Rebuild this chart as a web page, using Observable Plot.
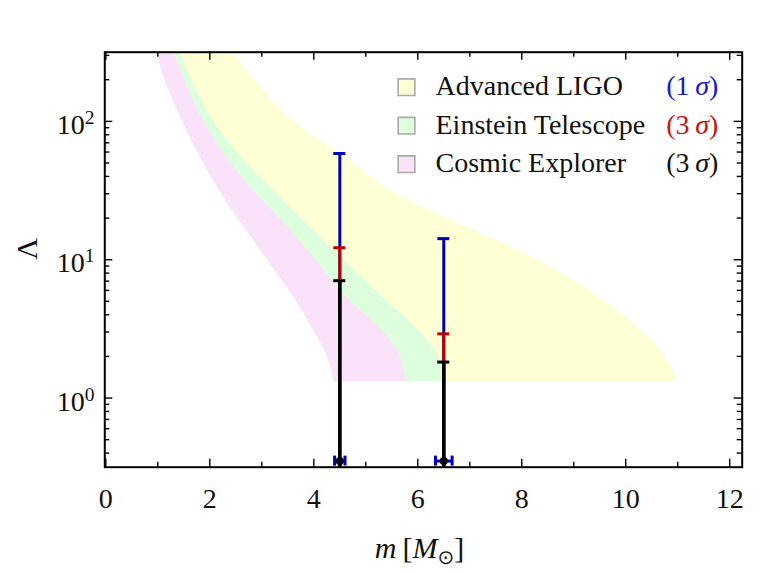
<!DOCTYPE html>
<html>
<head>
<meta charset="utf-8">
<script src="https://cdn.jsdelivr.net/npm/d3@7"></script>
<script src="https://cdn.jsdelivr.net/npm/@observablehq/plot@0.6"></script>
<style>
  html, body { margin: 0; padding: 0; background: #ffffff; }
  #chart svg { display: block; }
</style>
</head>
<body>
<div id="chart"></div>
<script>
// ---------- data ----------
// band edges: for each Λ level, the mass of the left edge and of the right edge of each band
const lamLevels     = [316.2, 200, 100, 50, 30, 20, 10, 5, 3, 2, 1.5, 1.31];
const leftEdge      = [0.975, 1.138, 1.475, 1.879, 2.225, 2.533, 3.11, 3.667, 4.013, 4.263, 4.36, 4.385];
const cosmicRight   = [1.306, 1.513, 1.877, 2.398, 2.898, 3.340, 4.033, 4.706, 5.340, 5.667, 5.752, 5.785];
const einsteinRight = [1.417, 1.648, 2.071, 2.706, 3.283, 3.744, 4.571, 5.415, 6.033, 6.408, 6.485, 6.504];
const ligoRight     = [2.437, 2.856, 3.600, 4.744, 5.571, 6.552, 8.302, 9.587, 10.32, 10.754, 10.927, 10.994];

// error bars
const massPoints      = [4.5, 6.5];
const centralLambda   = [0.35, 0.35];
const lowerLambda     = [0.3, 0.3];
const ligo1sigmaUpper = [58.6, 14.2];
const et3sigmaUpper   = [12.2, 2.91];
const ce3sigmaUpper   = [7.05, 1.82];
const ligoMassErr     = [0.10, 0.16];

// legend
const legendNames  = ["Advanced LIGO", "Einstein Telescope", "Cosmic Explorer"];
const legendSigma  = ["(1σ)", "(3σ)", "(3σ)"];

// ticks
const xMajorTicks = [0, 2, 4, 6, 8, 10, 12];
const xMinorTicks = [1, 3, 5, 7, 9, 11];
const yMajorTicks = [1, 10, 100];
const yMinorTicks = [0.4, 0.5, 0.6, 0.7, 0.8, 0.9, 2, 3, 4, 5, 6, 7, 8, 9,
                     20, 30, 40, 50, 60, 70, 80, 90, 200, 300];

// ---------- styling ----------
const colLigo = "#ffffd5", colET = "#ddfedd", colCE = "#fbe2fb";
const legendFill = [colLigo, colET, colCE];
const legendSigmaColor = ["#1717d0", "#cc1010", "#111111"];
const barBlue = "#0000bb", barRed = "#bb0000", barBlack = "#000000";
const FONT = "'Liberation Serif', 'DejaVu Serif', serif";

const W = 759, H = 573;
const mL = 104.3, mR = 17.3, mT = 51.7, mB = 106.3;
const frameW = W - mL - mR, frameH = H - mT - mB;

const bands = lamLevels.map((lam, i) => ({
  lam, left: leftEdge[i], ce: cosmicRight[i], et: einsteinRight[i], ligo: ligoRight[i]
}));
const bars = massPoints.map((m, i) => ({
  m, c: centralLambda[i], lo: lowerLambda[i],
  ligo: ligo1sigmaUpper[i], et: et3sigmaUpper[i], ce: ce3sigmaUpper[i], dm: ligoMassErr[i]
}));

const marks = [];
// bands
marks.push(Plot.areaX(bands, {y: "lam", x1: "left", x2: "ligo", fill: colLigo, curve: "monotone-y", clip: true}));
marks.push(Plot.areaX(bands, {y: "lam", x1: "left", x2: "et", fill: colET, curve: "monotone-y", clip: true}));
marks.push(Plot.areaX(bands, {y: "lam", x1: "left", x2: "ce", fill: colCE, curve: "monotone-y", clip: true}));

// horizontal (mass) error bar
marks.push(Plot.ruleY(bars, {y: "c", x1: d => d.m - d.dm, x2: d => d.m + d.dm, stroke: barBlue, strokeWidth: 3}));
marks.push(Plot.ruleX(bars, {x: d => d.m - d.dm, y1: "c", y2: "c", insetTop: -5, insetBottom: -5, stroke: barBlue, strokeWidth: 3}));
marks.push(Plot.ruleX(bars, {x: d => d.m + d.dm, y1: "c", y2: "c", insetTop: -5, insetBottom: -5, stroke: barBlue, strokeWidth: 3}));

// vertical error bars
const vbar = (key, color, sw) => [
  Plot.ruleX(bars, {x: "m", y1: "lo", y2: key, stroke: color, strokeWidth: sw, clip: true}),
  Plot.ruleY(bars, {y: key, x1: "m", x2: "m", insetLeft: -6, insetRight: -6, stroke: color, strokeWidth: 3})
];
marks.push(...vbar("ligo", barBlue, 3));
marks.push(...vbar("et", barRed, 3));
marks.push(...vbar("ce", barBlack, 3.5));
marks.push(Plot.dot(bars, {x: "m", y: "c", r: 4, fill: "black"}));

// ticks (inward, all four sides)
const tk = {stroke: "black", strokeWidth: 1.4};
marks.push(Plot.tickX(xMajorTicks, {x: d => d, insetTop: frameH - 8, ...tk}));
marks.push(Plot.tickX(xMajorTicks, {x: d => d, insetBottom: frameH - 8, ...tk}));
marks.push(Plot.tickX(xMinorTicks, {x: d => d, insetTop: frameH - 5, ...tk}));
marks.push(Plot.tickX(xMinorTicks, {x: d => d, insetBottom: frameH - 5, ...tk}));
marks.push(Plot.tickY(yMajorTicks, {y: d => d, insetRight: frameW - 8, ...tk}));
marks.push(Plot.tickY(yMajorTicks, {y: d => d, insetLeft: frameW - 8, ...tk}));
marks.push(Plot.tickY(yMinorTicks, {y: d => d, insetRight: frameW - 5, ...tk}));
marks.push(Plot.tickY(yMinorTicks, {y: d => d, insetLeft: frameW - 5, ...tk}));
marks.push(Plot.frame({stroke: "black", strokeWidth: 2}));

// tick labels
marks.push(Plot.text(xMajorTicks, {x: d => d, frameAnchor: "bottom", lineAnchor: "middle", dy: 32,
  text: d => String(d), fontSize: 28, fill: "#111"}));
marks.push(Plot.text(yMajorTicks, {y: d => d, frameAnchor: "left", lineAnchor: "middle", dx: -10.3, dy: 3.7, textAnchor: "end",
  text: d => "10^" + Math.round(Math.log10(d)), fontSize: 28, fill: "#111"}));

// axis labels
marks.push(Plot.text(["m [M⊙]"], {frameAnchor: "bottom", lineAnchor: "middle", dx: -4, dy: 81, fontSize: 30, fill: "#111"}));
marks.push(Plot.text(["Λ"], {frameAnchor: "left", lineAnchor: "middle", dx: -77, rotate: -90, fontSize: 30, fill: "#111"}));

// legend
legendNames.forEach((name, i) => {
  const rowDy = 35 + i * 38.5;
  marks.push(Plot.dot([name], {frameAnchor: "top-left", dx: 301.7, dy: rowDy, symbol: "square", r: 9.4,
    fill: legendFill[i], stroke: "#a9a9a9", strokeWidth: 1.6}));
  marks.push(Plot.text([name], {frameAnchor: "top-left", lineAnchor: "middle", dx: 330.7, dy: rowDy - 0.7, textAnchor: "start",
    fontSize: 28, fill: "#111", text: d => d}));
  marks.push(Plot.text([legendSigma[i]], {frameAnchor: "top-left", lineAnchor: "middle", dx: 561.5, dy: rowDy - 0.7, textAnchor: "start",
    fontSize: 28, fill: legendSigmaColor[i], text: d => d}));
});

const svg = Plot.plot({
  width: W, height: H,
  marginLeft: mL, marginRight: mR, marginTop: mT, marginBottom: mB,
  x: {domain: [-0.02, 12.24], axis: null},
  y: {type: "log", domain: [Math.pow(10, -0.5), Math.pow(10, 2.5)], axis: null},
  style: {fontFamily: FONT, background: "white", overflow: "visible"},
  marks
});

// rich text (superscripts, italics, subscripts)
d3.select(svg).selectAll("text").each(function () {
  const t = this.textContent;
  const sel = d3.select(this);
  let m;
  if ((m = /^10\^(-?\d+)$/.exec(t))) {
    sel.text("");
    sel.append("tspan").text("10");
    sel.append("tspan").attr("dy", -10).attr("font-size", 19.5).text(m[1]);
  } else if (t === "m [M⊙]") {
    sel.text("");
    sel.append("tspan").attr("font-style", "italic").text("m");
    sel.append("tspan").text("\u2009[");
    sel.append("tspan").attr("font-style", "italic").text("M");
    sel.append("tspan").attr("dy", 6).attr("font-size", 20).attr("font-family", "'DejaVu Sans', sans-serif").text("⊙");
    sel.append("tspan").attr("dy", -6).text("]");
  } else if ((m = /^\((\d)σ\)$/.exec(t))) {
    sel.text("");
    sel.append("tspan").text("(" + m[1] + "\u2009");
    sel.append("tspan").attr("font-style", "italic").text("σ");
    sel.append("tspan").text(")");
  }
});

document.getElementById("chart").appendChild(svg);
</script>
</body>
</html>
